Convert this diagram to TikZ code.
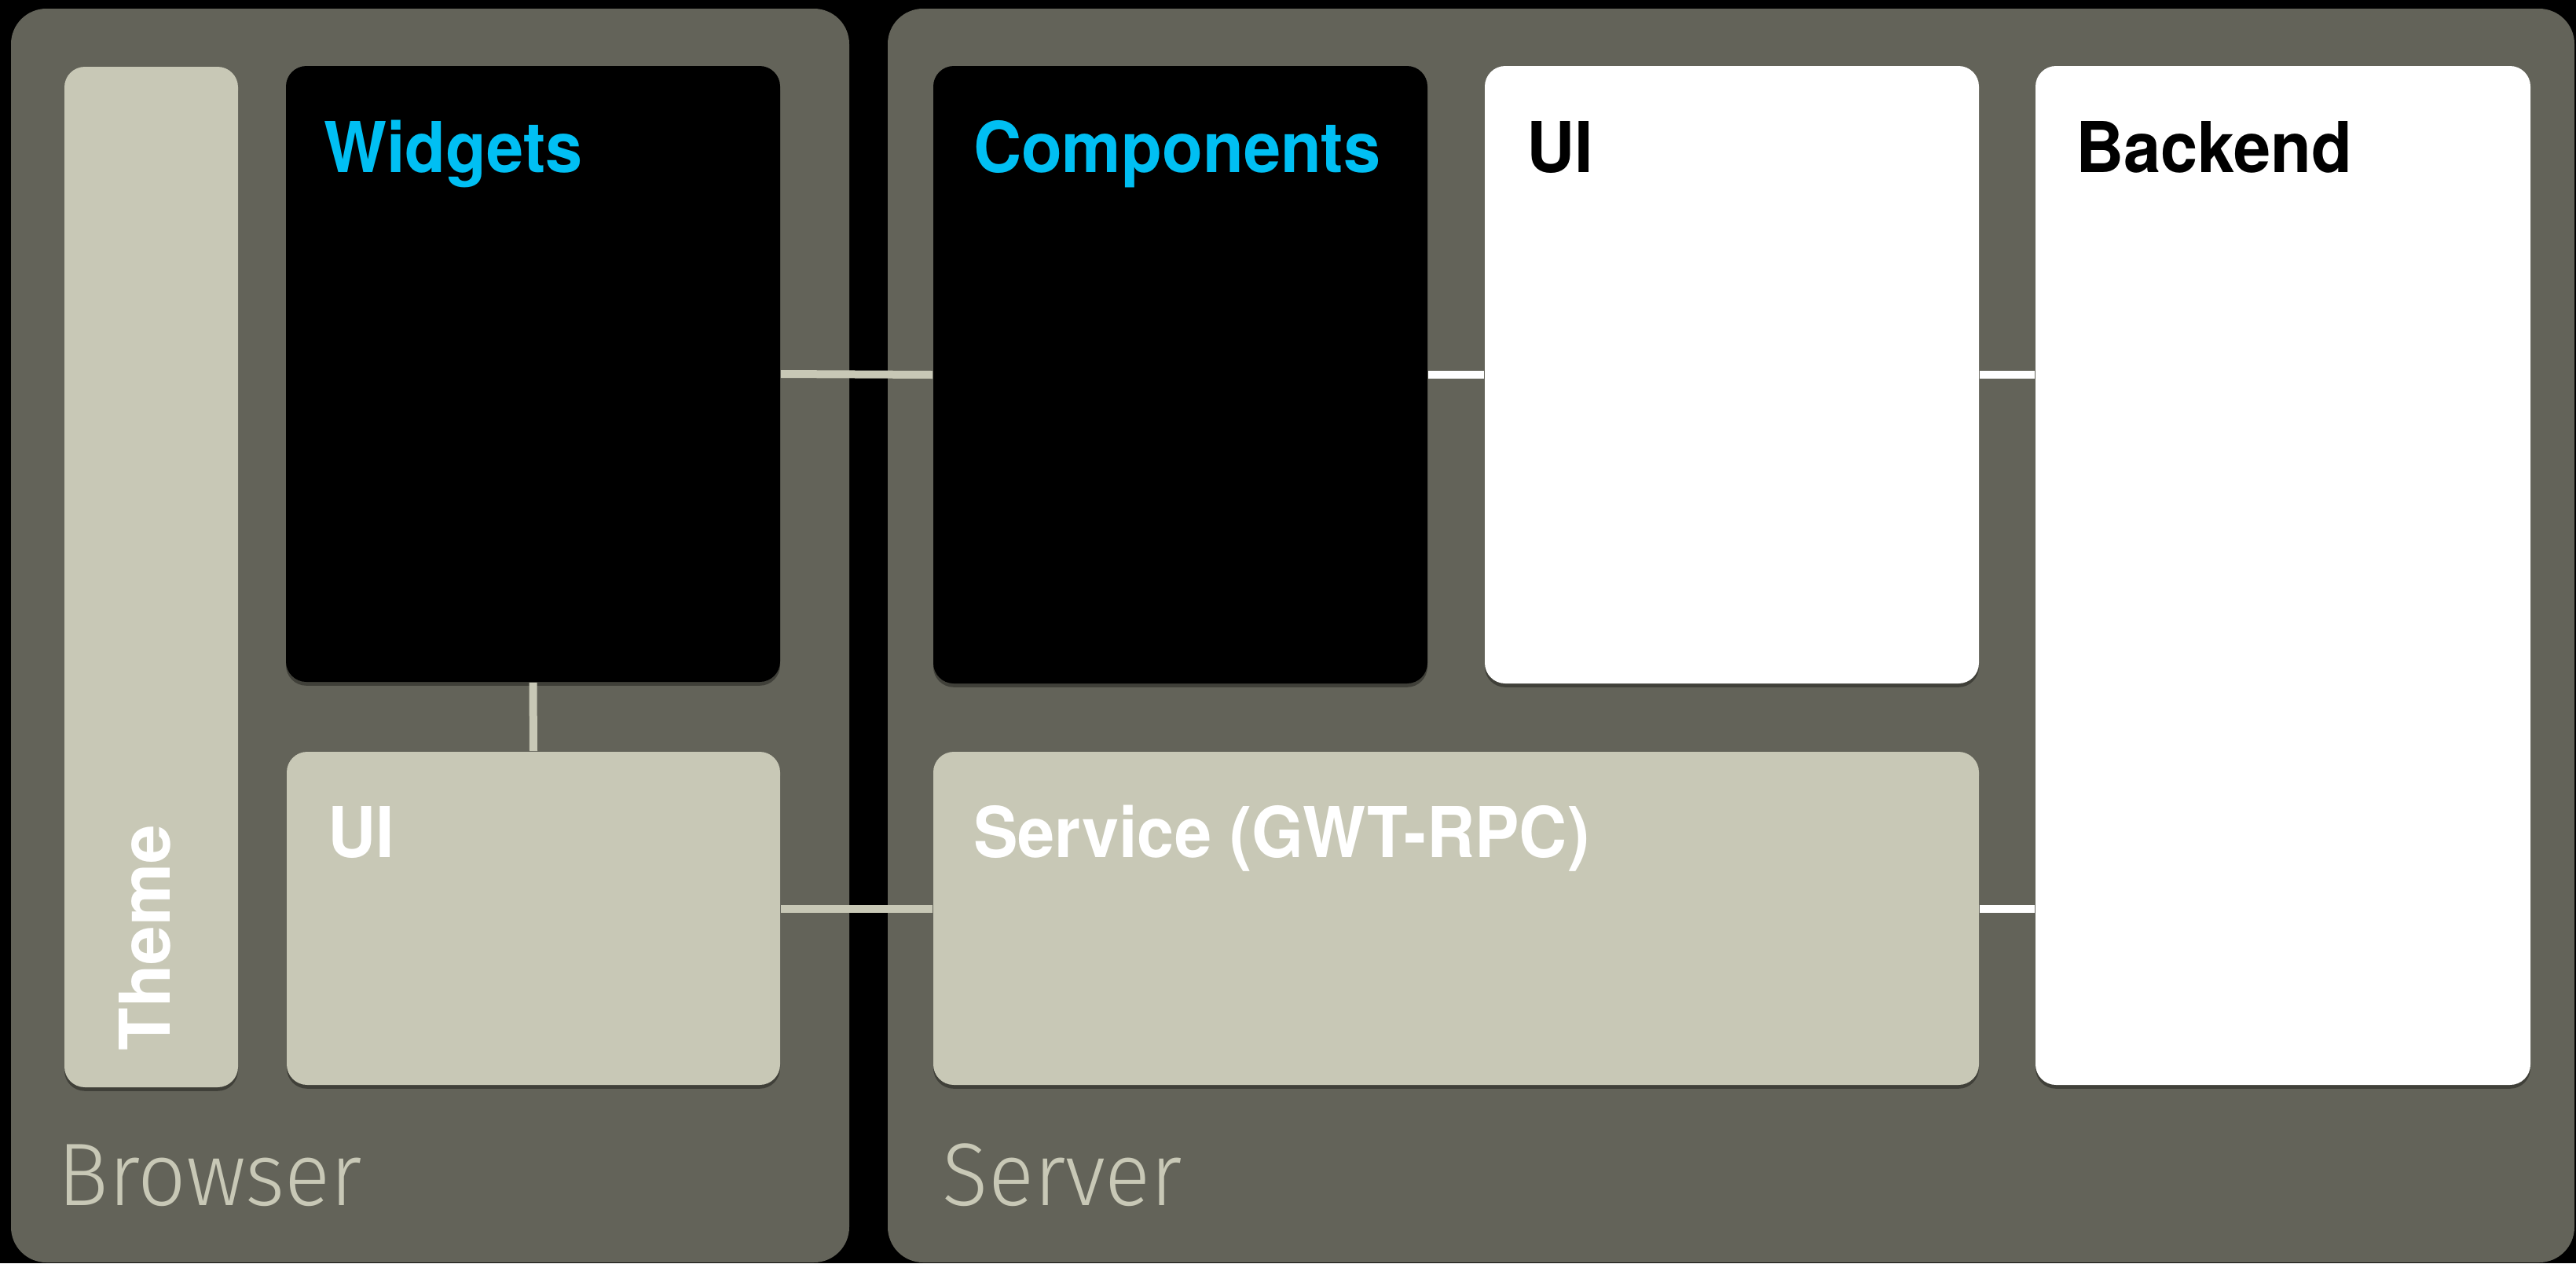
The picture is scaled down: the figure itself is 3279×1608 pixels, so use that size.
\documentclass[tikz,border=0pt]{standalone}
\usepackage{fontspec}
\setmainfont{TeX Gyre Heros}
\newfontfamily\lblfont[FakeStretch=0.95]{TeX Gyre Heros}
\newfontfamily\plainfont{TeX Gyre Heros}
\newfontfamily\lightfont[FakeStretch=0.955]{Fira Sans Light}
\usetikzlibrary{shadows}
\definecolor{panelgray}{RGB}{99,99,89}
\definecolor{beige}{RGB}{200,200,182}
\definecolor{cyantext}{RGB}{0,191,243}
\tikzset{
  box/.style={rectangle, rounded corners=6.5pt, inner sep=0pt, draw=none,
    drop shadow={shadow xshift=0pt, shadow yshift=-1.2pt, opacity=0.35, fill=black}},
  darkbox/.style={box, fill=black},
  whitebox/.style={box, fill=white},
  beigebox/.style={box, fill=beige},
  lbl/.style={inner sep=0pt, anchor=base west, font=\lblfont\bfseries\fontsize{22.3}{26}\selectfont},
  paneltext/.style={inner sep=0pt, anchor=base west, text=beige, font=\lightfont\fontsize{28.3}{32}\selectfont},
  link/.style={line width=2.5pt},
  beigelink/.style={link, draw=beige},
  whitelink/.style={link, draw=white},
}
\begin{document}
\begin{tikzpicture}[x=0.25pt, y=-0.25pt]
  % background and bounds
  \fill[black] (0,0) rectangle (3279,1608);
  \useasboundingbox (0,0) rectangle (3279,1608);
  % panels
  \fill[panelgray, rounded corners=11.25pt] (14,11) rectangle (1081,1607);
  \fill[panelgray, rounded corners=11.25pt] (1130,11) rectangle (3277,1607);

  % boxes
  \node[beigebox, minimum width=55.25pt, minimum height=324.75pt] (theme) at (192.5,734.5) {};
  \node[darkbox, minimum width=157.25pt, minimum height=196pt] (widgets) at (678.5,476) {};
  \node[beigebox, minimum width=157pt, minimum height=106pt] (bui) at (679,1169) {};
  \node[darkbox, minimum width=157.25pt, minimum height=196.5pt] (comp) at (1502.5,477) {};
  \node[whitebox, minimum width=157.25pt, minimum height=196.5pt] (sui) at (2204.5,477) {};
  \node[whitebox, minimum width=157.5pt, minimum height=324.25pt] (backend) at (2906,732.5) {};
  \node[beigebox, minimum width=332.75pt, minimum height=106pt] (svc) at (1853.5,1169) {};

  % connectors
  \draw[beigelink] (widgets.east) -- (comp.west);
  \draw[whitelink] (comp.east) -- (sui.west);
  \draw[whitelink] (sui.east) -- (sui.east -| backend.west);
  \draw[beigelink] (widgets.south) -- (bui.north);
  \draw[beigelink] ([yshift=3pt]bui.east) -- ([yshift=3pt]svc.west);
  \draw[whitelink] ([yshift=3pt]svc.east) -- ([yshift=3pt]svc.east -| backend.west);

  % labels
  \node[lbl, text=cyantext] (lwidgets) at ([xshift=12pt,yshift=-34pt]widgets.north west) {Widgets};
  \node[lbl, text=cyantext] (lcomp) at ([xshift=12.75pt,yshift=-34pt]comp.north west) {Components};
  \node[lbl, text=black] (lsui) at ([xshift=13.25pt,yshift=-34pt]sui.north west) {UI};
  \node[lbl, text=black] (lback) at ([xshift=12.75pt,yshift=-34pt]backend.north west) {Backend};
  \node[lbl, text=white] (lbui) at ([xshift=13pt,yshift=-33.75pt]bui.north west) {UI};
  \node[lbl, text=white] (lsvc) at ([xshift=12.75pt,yshift=-33.75pt]svc.north west) {Service (GWT-RPC)};
  \node[lbl, text=white, rotate=90, font=\plainfont\bfseries\fontsize{22.3}{26}\selectfont] (ltheme) at ([xshift=33.75pt,yshift=11.75pt]theme.south west) {Theme};

  \node[paneltext] (lbrowser) at (73,1534) {Browser};
  \node[paneltext] (lserver) at (1199,1534) {Server};
\end{tikzpicture}
\end{document}
